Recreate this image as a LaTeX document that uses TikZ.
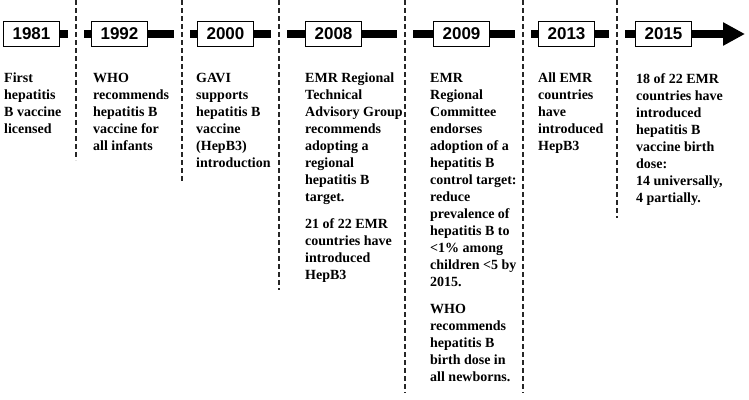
\documentclass[tikz,border=0pt]{standalone}
\usepackage{fontspec}
\setmainfont{Liberation Serif}
\setsansfont{Liberation Sans}
\usetikzlibrary{arrows.meta}

\begin{document}
\begin{tikzpicture}[x=1pt,y=-1pt,
  yearbox/.style={draw,line width=1pt,fill=white,anchor=west,inner sep=0pt,
    minimum width=56pt,minimum height=25pt,font=\fontsize{17}{17}\selectfont\sffamily\bfseries},
  note/.style={anchor=north west,inner sep=0pt,align=left,
    font=\fontsize{14}{17}\selectfont\bfseries},
  bar/.style={line width=8pt},
  divider/.style={line width=2pt,black!85,dash pattern=on 5pt off 3pt}]
  \useasboundingbox (0,0) rectangle (749,399);

  \node (y1981)[yearbox] at (3,34)   {1981};
  \node (y1992)[yearbox] at (91,34)  {1992};
  \node (y2000)[yearbox] at (197,34) {2000};
  \node (y2008)[yearbox] at (305,34) {2008};
  \node (y2009)[yearbox] at (433,34) {2009};
  \node (y2013)[yearbox] at (538,34) {2013};
  \node (y2015)[yearbox] at (635,34) {2015};

  \foreach \x/\b in {76/160,182/182,279/290,405/393,523/393,617/218}
    \draw[divider] (\x,0) -- (\x,\b);

  \foreach \a/\x/\b in {y1981/76/y1992,y1992/182/y2000,y2000/279/y2008,
                        y2008/405/y2009,y2009/523/y2013,y2013/617/y2015} {
    \draw[bar] (\a.east) -- ({\x-8},34);
    \draw[bar] ({\x+8},34) -- (\b.west);
  }
  \draw[bar,-{Triangle[length=22pt,width=22pt]}] (y2015.east) -- (745,34);

  \node (n1981)[note] at (4,73)   {First\\hepatitis\\B vaccine\\licensed};
  \node (n1992)[note] at (93,73)  {WHO\\recommends\\hepatitis B\\vaccine for\\all infants};
  \node (n2000)[note] at (196,73) {GAVI\\supports\\hepatitis B\\vaccine\\(HepB3)\\introduction};
  \node (n2008)[note] at (305,73) {EMR Regional\\Technical\\Advisory Group\\recommends\\adopting a\\regional\\hepatitis B\\target.\\[10pt]
    21 of 22 EMR\\countries have\\introduced\\HepB3};
  \node (n2009)[note] at (430,73) {EMR\\Regional\\Committee\\endorses\\adoption of a\\hepatitis B\\control target:\\reduce\\prevalence of\\hepatitis B to\\<1\% among\\children <5 by\\2015.\\[10pt]
    WHO\\recommends\\hepatitis B\\birth dose in\\all newborns.};
  \node (n2013)[note] at (538,73) {All EMR\\countries\\have\\introduced\\HepB3};
  \node (n2015)[note] at (636,73) {18 of 22 EMR\\countries have\\introduced\\hepatitis B\\vaccine birth\\dose:\\14 universally,\\4 partially.};
\end{tikzpicture}
\end{document}
